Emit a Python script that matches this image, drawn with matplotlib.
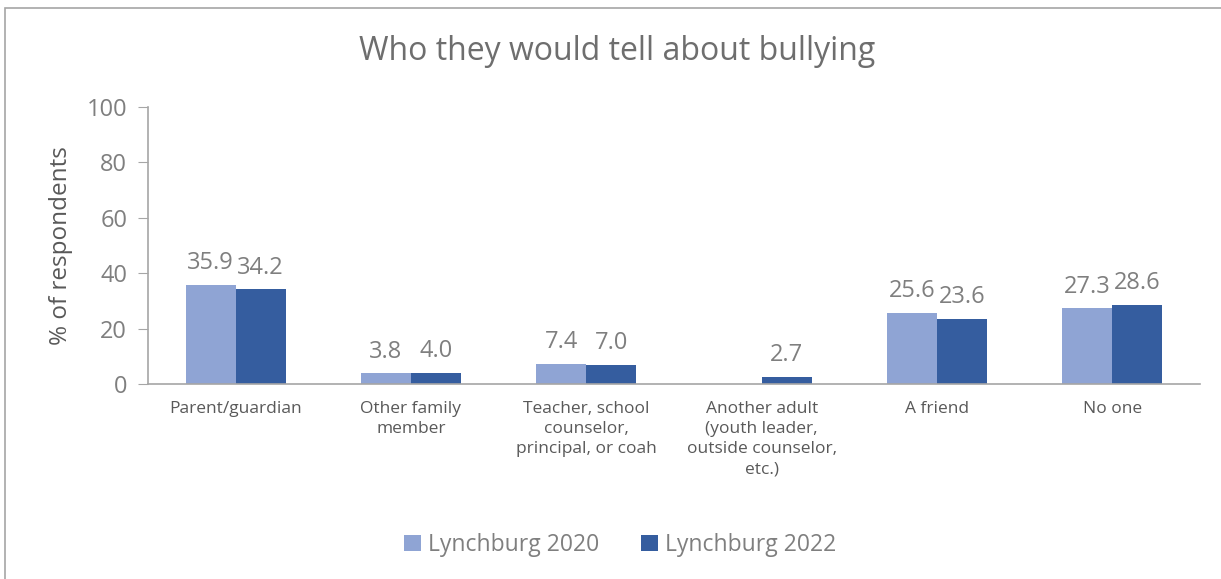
import matplotlib
matplotlib.use('Agg')
import matplotlib.pyplot as plt
import numpy as np
from matplotlib.patches import Rectangle

plt.rcParams['font.family'] = ['Open Sans', 'DejaVu Sans']

categories = ['Parent/guardian', 'Other family\nmember', 'Teacher, school\ncounselor,\nprincipal, or coah',
              'Another adult\n(youth leader,\noutside counselor,\netc.)', 'A friend', 'No one']
vals_2020 = [35.9, 3.8, 7.4, np.nan, 25.6, 27.3]
vals_2022 = [34.2, 4.0, 7.0, 2.7, 23.6, 28.6]
series = ['Lynchburg 2020', 'Lynchburg 2022']
colors = ['#8FA4D4', '#355D9F']
TXT = '#7F7F7F'

fig = plt.figure(figsize=(12.21, 5.79), dpi=100)
fig.patches.append(Rectangle((5 / 1221, -0.1), 1.2, 1 - 8 / 579 + 0.1, transform=fig.transFigure,
                             fill=False, edgecolor='#A6A6A6', linewidth=1.2))
ax = fig.add_axes([148 / 1221, 1 - 384 / 579, 1052 / 1221, 277 / 579])

x = np.arange(len(categories))
w = 0.285
for i, (vals, col, lab) in enumerate(zip([vals_2020, vals_2022], colors, series)):
    pos = x + (i - 0.5) * w
    ax.bar(pos, vals, width=w, color=col, label=lab)
    for p, v in zip(pos, vals):
        if not np.isnan(v):
            ax.text(p, v + 3.5, f'{v:.1f}', ha='center', va='bottom', fontsize=17, color=TXT)

ax.set_xlim(-0.5, len(categories) - 0.5)
ax.set_ylim(0, 100)
ax.set_yticks(range(0, 101, 20))
ax.set_xticks(x)
ax.set_xticklabels(categories, fontsize=12.5, color='#595959', linespacing=1.35)
ax.tick_params(axis='x', length=0, pad=12)
ax.tick_params(axis='y', labelsize=17, labelcolor=TXT, color='#A6A6A6', length=7, pad=8)
for s in ['top', 'right']:
    ax.spines[s].set_visible(False)
for s in ['left', 'bottom']:
    ax.spines[s].set_color('#A6A6A6')
    ax.spines[s].set_linewidth(1.2)
ax.set_ylabel('% of respondents', fontsize=17.5, color='#595959', labelpad=10)

fig.text(617 / 1221, 1 - 52 / 579, 'Who they would tell about bullying', ha='center', va='center',
         fontsize=23, color='#6E6E6E')
fig.legend(loc='center', bbox_to_anchor=(620 / 1221, 1 - 545 / 579), ncol=2, frameon=False,
           fontsize=16.5, labelcolor=TXT, handlelength=0.75, handleheight=0.75, handletextpad=0.3,
           columnspacing=1.8)

fig.savefig('out.png', dpi=100)
